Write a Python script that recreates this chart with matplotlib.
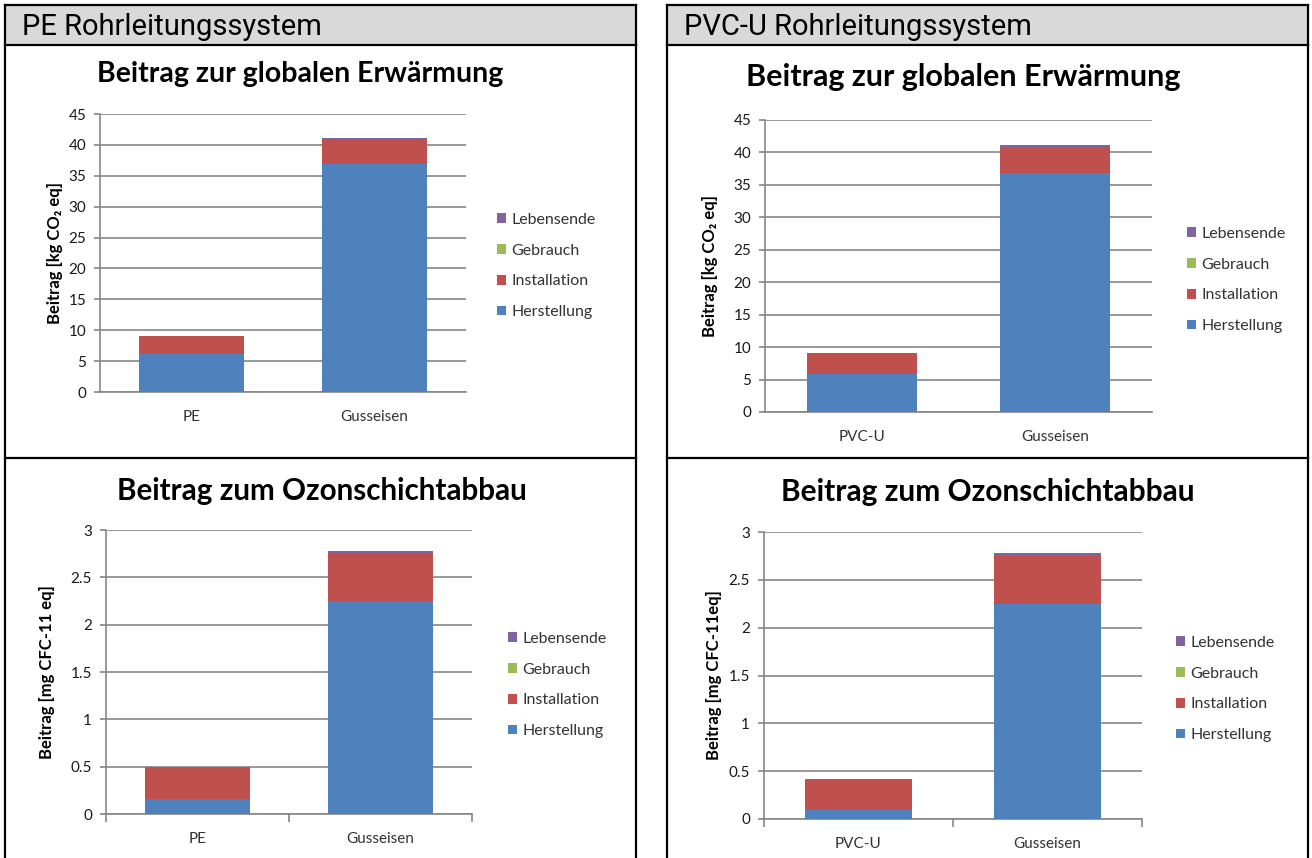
import matplotlib
matplotlib.use("Agg")
import matplotlib.pyplot as plt
from matplotlib.patches import Rectangle, Patch
from matplotlib.lines import Line2D

W, H = 1312, 858

# data
stages = ["Herstellung", "Installation", "Gebrauch", "Lebensende"]
colors = ["#4F81BD", "#C0504D", "#9BBB59", "#8064A2"]

cats_pe = ["PE", "Gusseisen"]
cats_pvc = ["PVC-U", "Gusseisen"]

# Beitrag zur globalen Erwärmung [kg CO2 eq]
gwp_pe = {
    "Herstellung": [6.1, 36.9],
    "Installation": [2.9, 4.0],
    "Gebrauch": [0.0, 0.0],
    "Lebensende": [0.1, 0.2],
}
gwp_pvc = {
    "Herstellung": [5.9, 36.9],
    "Installation": [3.1, 4.0],
    "Gebrauch": [0.0, 0.0],
    "Lebensende": [0.1, 0.2],
}
# Beitrag zum Ozonschichtabbau [mg CFC-11 eq]
odp_pe = {
    "Herstellung": [0.16, 2.25],
    "Installation": [0.33, 0.50],
    "Gebrauch": [0.0, 0.0],
    "Lebensende": [0.01, 0.03],
}
odp_pvc = {
    "Herstellung": [0.09, 2.25],
    "Installation": [0.32, 0.50],
    "Gebrauch": [0.0, 0.0],
    "Lebensende": [0.01, 0.03],
}

FONT = ["Lato", "DejaVu Sans"]
GRID = "#868686"

fig = plt.figure(figsize=(W / 100, H / 100), dpi=100)
fig.patch.set_facecolor("white")


def fx(x):
    return x / W


def fy(y):
    return 1 - y / H


def line(x0, y0, x1, y1, lw=1.6):
    fig.add_artist(Line2D([fx(x0), fx(x1)], [fy(y0), fy(y1)], color="black",
                          lw=lw, transform=fig.transFigure))


# frames and headers
for x0, x1, name in [(5, 636, "PE Rohrleitungssystem"), (667, 1308, "PVC-U Rohrleitungssystem")]:
    fig.add_artist(Rectangle((fx(x0), fy(45)), fx(x1 - x0), 40 / H, transform=fig.transFigure,
                             facecolor="#D9D9D9", edgecolor="none"))
    line(x0, 5, x1, 5)
    line(x0, 45, x1, 45)
    line(x0, 458, x1, 458)
    line(x0, 5, x0, 858)
    line(x1, 5, x1, 858)
    fig.text(fx(x0 + 17), fy(27), name, family=["Roboto", "DejaVu Sans"], fontsize=21,
             ha="left", va="center", color="black")


def chart(rect, cats, data, ymax, ystep, title, title_xy, title_size, ylabel, ylabel_x, leg_xy, xticks):
    left, top, right, bottom = rect
    ax = fig.add_axes([fx(left), fy(bottom), fx(right - left), (bottom - top) / H])
    x = range(len(cats))
    base = [0.0] * len(cats)
    for st, col in zip(stages, colors):
        ax.bar(x, data[st], width=0.57, bottom=base, color=col, zorder=3)
        base = [b + v for b, v in zip(base, data[st])]
    ax.set_xlim(-0.5, len(cats) - 0.5)
    ax.set_ylim(0, ymax)
    ticks = [i * ystep for i in range(int(round(ymax / ystep)) + 1)]
    ax.set_yticks(ticks)
    ax.set_yticklabels([f"{t:g}" for t in ticks], family=FONT, fontsize=11, color="#1a1a1a")
    ax.set_xticks(list(x))
    ax.set_xticklabels(cats, family=FONT, fontsize=11, color="#333333")
    ax.yaxis.grid(True, color=GRID, lw=1.2, zorder=0)
    ax.set_axisbelow(True)
    for s in ["top", "right"]:
        ax.spines[s].set_visible(False)
    for s in ["left", "bottom"]:
        ax.spines[s].set_color(GRID)
        ax.spines[s].set_linewidth(1.2)
    ax.tick_params(axis="y", length=4, color=GRID, width=1.2, pad=6)
    ax.tick_params(axis="x", length=0, pad=13)
    if xticks:
        ax.set_xticks([-0.5, 0.5, 1.5], minor=True)
        ax.tick_params(axis="x", which="minor", length=6, color=GRID, width=1.2)
    fig.text(fx(title_xy[0]), fy(title_xy[1]), title, family=FONT, fontsize=title_size,
             fontweight="bold", ha="center", va="center")
    fig.text(fx(ylabel_x), fy((top + bottom) / 2), ylabel, family=FONT, fontsize=12,
             fontweight="bold", rotation=90, ha="center", va="center")
    handles = [Patch(facecolor=c, label=s) for s, c in zip(stages, colors)][::-1]
    leg = ax.legend(handles=handles, loc="center left", frameon=False,
                    bbox_to_anchor=(fx(leg_xy[0]), fy(leg_xy[1])), bbox_transform=fig.transFigure,
                    prop={"family": FONT, "size": 11.5}, handlelength=0.55, handleheight=0.55,
                    handletextpad=0.35, labelspacing=1.05, borderpad=0)
    for t in leg.get_texts():
        t.set_color("#333333")
    return ax


chart((100, 114, 466, 392), cats_pe, gwp_pe, 45, 5,
      "Beitrag zur globalen Erwärmung", (300, 74), 20.5,
      "Beitrag [kg CO₂ eq]", 55, (489, 266), False)
chart((765, 120, 1152, 412), cats_pvc, gwp_pvc, 45, 5,
      "Beitrag zur globalen Erwärmung", (963, 77), 22,
      "Beitrag [kg CO₂ eq]", 710, (1179, 280), False)
chart((106, 530, 472, 814), cats_pe, odp_pe, 3, 0.5,
      "Beitrag zum Ozonschichtabbau", (322, 491), 21.3,
      "Beitrag [mg CFC-11 eq]", 47, (500, 685), True)
chart((764, 532, 1142, 819), cats_pvc, odp_pvc, 3, 0.5,
      "Beitrag zum Ozonschichtabbau", (988, 492), 21.5,
      "Beitrag [mg CFC-11eq]", 714, (1168, 689), True)

fig.savefig("out.png", dpi=100)
